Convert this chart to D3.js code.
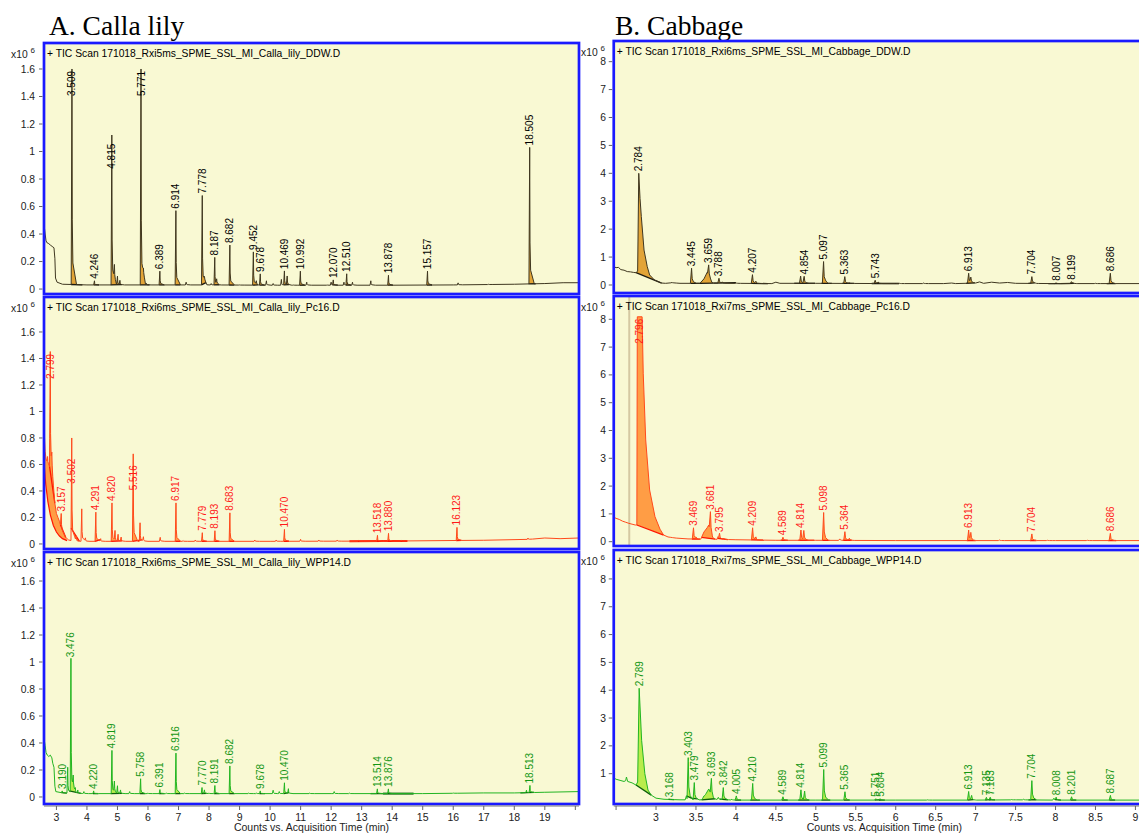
<!DOCTYPE html>
<html>
<head>
<meta charset="utf-8">
<script src="https://cdn.jsdelivr.net/npm/d3@7"></script>
<style>
  body { margin: 0; background: #ffffff; }
  svg { display: block; }
</style>
</head>
<body>
<svg id="chart" width="1139" height="834"></svg>
<script>
// ---------------- Data (abundance in x10^6 counts, time in min) ----------------

// Calla lily, DDW
const callaDdwHeader = "+ TIC Scan 171018_Rxi5ms_SPME_SSL_MI_Calla_lily_DDW.D";
const callaDdwTrace = [[2.59,0.45],[2.61,0.44],[2.63,0.40],[2.66,0.35],[2.70,0.335],[2.75,0.33],[2.80,0.32],[2.86,0.31],[2.92,0.30],[2.95,0.22],[2.97,0.08],[3.02,0.05],[3.2,0.035],[4.0,0.03],[6.0,0.03],[8.0,0.03],[10.0,0.028],[12.0,0.028],[14.0,0.028],[16.0,0.03],[18.0,0.035],[19.0,0.04],[19.6,0.046],[20.12,0.046]];
const callaDdwPeaks = [["3.509",1.6],["4.246",0.06],["4.815",0.86,1.12],["5.771",1.6],["6.389",0.13],["6.914",0.57],["7.778",0.68],["8.187",0.23],["8.682",0.32],["9.452",0.27],["9.678",0.11],["10.469",0.13],["10.992",0.13],["12.070",0.065],["12.510",0.11],["13.878",0.1],["15.157",0.13],["18.505",1.03]];
const callaDdwMinor = [[3.86,0.03],[4.9,0.12],[5.0,0.09],[5.08,0.06],[5.34,0.03],[5.85,0.06],[5.95,0.04],[6.6,0.025],[7.25,0.05],[7.85,0.05],[8.07,0.04],[8.25,0.06],[9.0,0.03],[9.55,0.05],[9.88,0.06],[10.1,0.04],[10.37,0.07],[10.56,0.09],[10.76,0.03],[11.2,0.05],[11.87,0.03],[12.0,0.05],[12.42,0.05],[12.7,0.05],[13.3,0.06],[14.57,0.025],[16.16,0.045],[17.15,0.035],[18.08,0.025],[18.9,0.035],[19.3,0.025]];
const callaDdwWindows = [["3.509",3.48,3.85],["4.815",4.78,5.15],["5.771",5.74,6.05],["7.778",7.75,7.9],["18.505",18.47,18.7]];

// Calla lily, Pc16
const callaPc16Header = "+ TIC Scan 171018_Rxi6ms_SPME_SSL_MI_Calla_lily_Pc16.D";
const callaPc16Trace = [[2.59,0.87],[2.61,0.80],[2.63,0.70],[2.66,0.64],[2.70,0.62],[2.74,0.60],[2.78,0.58],[2.83,0.56],[2.86,0.50],[2.90,0.40],[2.95,0.30],[3.00,0.23],[3.05,0.20],[3.10,0.17],[3.20,0.09],[3.30,0.05],[3.40,0.03],[3.60,0.02],[6,0.02],[10,0.02],[14,0.022],[17,0.028],[18.5,0.035],[19.0,0.045],[19.5,0.04],[20.12,0.045]];
const callaPc16Hump = [[2.59,0.62],[2.65,0.45],[2.72,0.32],[2.80,0.22],[2.90,0.14],[3.00,0.09],[3.10,0.06],[3.20,0.04],[3.35,0.025]];
const callaPc16Peaks = [["2.799",1.45],["3.157",0.23],["3.502",0.44,0.80],["4.291",0.24],["4.820",0.31],["5.516",0.39,0.68],["6.917",0.31],["7.779",0.085],["8.193",0.1],["8.683",0.235],["10.470",0.11],["13.518",0.065],["13.880",0.08],["16.123",0.125]];
const callaPc16Minor = [[2.71,0.66],[2.85,0.62],[3.65,0.06],[3.83,0.265],[3.95,0.04],[4.45,0.04],[4.92,0.09],[5.02,0.07],[5.12,0.05],[5.74,0.16],[5.85,0.05],[6.4,0.05],[7.15,0.025],[7.55,0.03],[9.5,0.03],[10.2,0.03],[11.0,0.035],[11.6,0.03],[12.2,0.03],[12.9,0.03],[14.3,0.03],[18.45,0.045]];
const callaPc16Windows = [["3.502",3.48,3.75],["4.820",4.79,5.15],["5.516",5.49,5.8],["13.518",12.6,13.7],["13.880",13.7,14.5]];

// Calla lily, WPP14
const callaWppHeader = "+ TIC Scan 171018_Rxi6ms_SPME_SSL_MI_Calla_lily_WPP14.D";
const callaWppTrace = [[2.59,0.42],[2.61,0.41],[2.63,0.38],[2.66,0.33],[2.70,0.31],[2.75,0.30],[2.80,0.31],[2.85,0.29],[2.88,0.25],[2.92,0.22],[2.95,0.08],[2.98,0.04],[3.2,0.03],[4,0.025],[8,0.025],[12,0.025],[15,0.025],[17,0.03],[18,0.03],[19,0.035],[20.12,0.04]];
const callaWppPeaks = [["3.190",0.045],["3.476",1.02],["4.220",0.045],["4.819",0.345],["5.758",0.135],["6.391",0.055],["6.916",0.325],["7.770",0.07],["8.191",0.085],["8.682",0.23],["9.678",0.045],["10.470",0.105],["13.514",0.06],["13.876",0.06],["18.513",0.085]];
const callaWppMinor = [[3.37,0.22],[3.55,0.1],[3.62,0.06],[3.7,0.05],[3.9,0.04],[4.9,0.1],[5.0,0.08],[5.1,0.05],[5.4,0.04],[6.0,0.03],[6.6,0.03],[7.2,0.03],[7.85,0.05],[8.0,0.03],[9.3,0.03],[9.55,0.03],[10.1,0.05],[10.3,0.04],[10.6,0.06],[11.3,0.03],[12.1,0.04],[12.6,0.03],[16.0,0.03],[18.4,0.05]];
const callaWppWindows = [["3.476",3.42,3.8],["4.819",4.78,5.15],["13.514",13.29,13.7],["13.876",13.7,14.7],["18.513",18.2,18.65]];

// Cabbage, DDW
const cabDdwHeader = "+ TIC Scan 171018_Rxi6ms_SPME_SSL_MI_Cabbage_DDW.D";
const cabDdwTrace = [[2.471,0.66],[2.5,0.62],[2.53,0.63],[2.56,0.55],[2.6,0.53],[2.64,0.48],[2.68,0.47],[2.72,0.45],[2.75,0.44],[2.77,0.5],[2.784,4.0],[2.80,3.1],[2.816,2.45],[2.85,1.25],[2.89,0.66],[2.92,0.36],[2.98,0.18],[3.07,0.07],[3.12,0.06],[3.2,0.08],[3.3,0.06],[3.55,0.06],[3.6,0.22],[3.64,0.45],[3.70,0.07],[4.0,0.06],[4.45,0.05],[4.5,0.1],[4.55,0.06],[5.0,0.06],[6.0,0.05],[6.6,0.05],[6.7,0.07],[6.75,0.05],[7.0,0.07],[7.05,0.11],[7.1,0.06],[7.2,0.1],[7.3,0.07],[7.4,0.09],[7.5,0.06],[8.0,0.05],[9.245,0.05]];
const cabDdwPeaks = [["2.784",4.0],["3.445",0.6],["3.659",0.72],["3.788",0.24],["4.207",0.37],["4.854",0.3],["5.097",0.84],["5.363",0.3],["5.743",0.17],["6.913",0.42],["7.704",0.3],["8.007",0.08],["8.199",0.12],["8.686",0.42]];
const cabDdwMinor = [[3.2,0.09],[3.83,0.1],[4.0,0.08],[4.25,0.12],[4.81,0.32],[5.12,0.1],[5.42,0.08],[5.78,0.1],[6.05,0.06],[6.35,0.07],[6.94,0.25],[7.73,0.08],[8.22,0.07],[8.5,0.06]];
const cabDdwWindows = [["2.784",2.75,3.07],["3.445",3.43,3.55],["3.659",3.55,3.72],["3.788",3.72,4.0],["4.207",4.19,4.4],["4.854",4.73,4.99],["5.097",5.07,5.2],["5.363",5.33,5.48],["5.743",5.7,6.04],["6.913",6.88,6.99],["7.704",7.66,7.74],["8.007",7.91,8.06],["8.199",8.06,8.23],["8.686",8.64,8.75]];

// Cabbage, Pc16
const cabPc16Header = "+ TIC Scan 171018_Rxi7ms_SPME_SSL_MI_Cabbage_Pc16.D";
const cabPc16Trace = [[2.471,0.88],[2.5,0.84],[2.54,0.8],[2.58,0.74],[2.62,0.7],[2.66,0.66],[2.7,0.63],[2.74,0.6],[2.76,0.6],[2.766,8.09],[2.826,8.09],[2.84,6.06],[2.871,3.66],[2.92,1.86],[2.987,0.9],[3.05,0.45],[3.095,0.24],[3.15,0.17],[3.25,0.13],[3.4,0.1],[3.56,0.09],[3.6,0.35],[3.64,0.5],[3.66,0.6],[3.71,0.09],[4.0,0.07],[4.5,0.05],[5.0,0.05],[6.0,0.04],[7.0,0.04],[8.0,0.04],[9.245,0.04]];
const cabPc16Peaks = [["2.796",8.09],["3.469",0.5],["3.681",1.08],["3.795",0.28],["4.209",0.5],["4.589",0.16],["4.814",0.42],["5.098",1.05],["5.364",0.36],["6.913",0.42],["7.704",0.28],["8.686",0.3]];
const cabPc16Minor = [[3.2,0.15],[3.5,0.14],[3.78,0.2],[3.85,0.12],[4.25,0.15],[4.85,0.38],[5.3,0.1],[5.42,0.12],[6.94,0.3],[7.3,0.06],[7.9,0.05],[8.4,0.05]];
const cabPc16Windows = [["2.796",2.76,3.095],["3.469",3.45,3.55],["3.681",3.57,3.74],["3.795",3.77,3.9],["4.209",4.19,4.35],["4.589",4.56,4.65],["4.814",4.78,4.98],["5.098",5.08,5.17],["5.364",5.34,5.45],["6.913",6.89,7.0],["7.704",7.68,7.76],["8.686",8.66,8.76]];
const cabPc16Markers = [2.665];

// Cabbage, WPP14
const cabWppHeader = "+ TIC Scan 171018_Rxi7ms_SPME_SSL_MI_Cabbage_WPP14.D";
const cabWppTrace = [[2.471,0.85],[2.5,0.8],[2.55,0.76],[2.6,0.72],[2.62,0.75],[2.63,0.88],[2.645,0.72],[2.7,0.67],[2.75,0.59],[2.77,0.7],[2.789,4.07],[2.82,2.2],[2.86,1.0],[2.9,0.41],[2.94,0.23],[3.0,0.12],[3.1,0.08],[3.3,0.06],[3.57,0.06],[3.62,0.25],[3.66,0.45],[3.72,0.08],[4.0,0.05],[5.0,0.05],[6.0,0.05],[7.0,0.05],[7.5,0.06],[8.0,0.05],[9.245,0.05]];
const cabWppPeaks = [["2.789",4.07],["3.168",0.08],["3.403",1.56],["3.479",0.68],["3.693",0.83],["3.842",0.5],["4.005",0.2],["4.210",0.65],["4.589",0.17],["4.814",0.42],["5.099",1.15],["5.365",0.35],["5.751",0.1],["5.804",0.1],["6.913",0.36],["7.135",0.15],["7.183",0.15],["7.704",0.75],["8.008",0.15],["8.201",0.17],["8.687",0.22]];
const cabWppMinor = [[3.38,0.2],[3.6,0.2],[3.78,0.15],[3.95,0.08],[4.86,0.36],[6.4,0.06],[6.95,0.2],[7.45,0.07],[7.6,0.08],[7.98,0.12]];
const cabWppWindows = [["2.789",2.75,2.94],["3.403",3.38,3.45],["3.479",3.45,3.52],["3.693",3.57,3.74],["3.842",3.8,3.9],["4.210",4.18,4.3],["4.814",4.78,4.92],["5.099",5.07,5.18],["7.704",7.66,7.76]];

// Axis ticks
const callaYTicks = [0, 0.2, 0.4, 0.6, 0.8, 1, 1.2, 1.4, 1.6];
const cabbageYTicks = [0, 1, 2, 3, 4, 5, 6, 7, 8];
const callaXTicks = [3,4,5,6,7,8,9,10,11,12,13,14,15,16,17,18,19,20];
const callaXLabels = ["3","4","5","6","7","8","9","10","11","12","13","14","15","16","17","18","19",""];
const cabbageXTicks = [2.5,3,3.5,4,4.5,5,5.5,6,6.5,7,7.5,8,8.5,9];
const cabbageXLabels = ["","3","3.5","4","4.5","5","5.5","6","6.5","7","7.5","8","8.5","9"];

const titleA = "A. Calla lily";
const titleB = "B. Cabbage";
const xAxisTitle = "Counts vs. Acquisition Time (min)";

// ---------------- Styles and layout ----------------
const ddwStyle  = { line: "#3f3720", fill: "#e2a437", base: "#1c1a10", label: "#000000" };
const pc16Style = { line: "#ff4a1c", fill: "#ff9d45", base: "#ff1500", label: "#ff1a1a" };
const wppStyle  = { line: "#22b522", fill: "#b9ec4c", base: "#0b5e0b", label: "#139613" };

// spike outline in minutes: [offset, fraction of peak excess]
const callaShape   = [[-0.025,0],[0,1],[0.01,0.3],[0.03,0.1],[0.15,0]];
const cabbageShape = [[-0.015,0],[0,1],[0.008,0.3],[0.024,0.1],[0.06,0]];

const colA = { x0: 44, x1: 579, dom: [2.593, 20.12], shape: callaShape, yTicks: callaYTicks, xTicks: callaXTicks, xLabels: callaXLabels, tickX: 35, expX: 11 };
const colB = { x0: 613.75, x1: 1155, dom: [2.471, 9.245], shape: cabbageShape, yTicks: cabbageYTicks, xTicks: cabbageXTicks, xLabels: cabbageXLabels, tickX: 606, expX: 581 };

const panels = [
  { col: colA, y0: 43,  y1: 294, yDom: [-0.036, 1.789], header: callaDdwHeader, trace: callaDdwTrace, peaks: callaDdwPeaks, minor: callaDdwMinor, windows: callaDdwWindows, style: ddwStyle },
  { col: colA, y0: 297, y1: 549, yDom: [-0.038, 1.864], header: callaPc16Header, trace: callaPc16Trace, peaks: callaPc16Peaks, minor: callaPc16Minor, windows: callaPc16Windows, hump: callaPc16Hump, style: pc16Style },
  { col: colA, y0: 552, y1: 804, yDom: [-0.052, 1.815], header: callaWppHeader, trace: callaWppTrace, peaks: callaWppPeaks, minor: callaWppMinor, windows: callaWppWindows, style: wppStyle, axis: true },
  { col: colB, y0: 41,  y1: 293, yDom: [-0.287, 8.74], header: cabDdwHeader, trace: cabDdwTrace, peaks: cabDdwPeaks, minor: cabDdwMinor, windows: cabDdwWindows, style: ddwStyle },
  { col: colB, y0: 296, y1: 546, yDom: [-0.155, 8.838], header: cabPc16Header, trace: cabPc16Trace, peaks: cabPc16Peaks, minor: cabPc16Minor, windows: cabPc16Windows, markers: cabPc16Markers, style: pc16Style },
  { col: colB, y0: 550, y1: 804, yDom: [-0.09, 9.04], header: cabWppHeader, trace: cabWppTrace, peaks: cabWppPeaks, minor: cabWppMinor, windows: cabWppWindows, style: wppStyle, axis: true }
];

const SANS = "'Liberation Sans', Arial, Helvetica, sans-serif";
const SERIF = "'Liberation Serif', 'Times New Roman', Times, serif";

const svg = d3.select("#chart");

// ---------------- Helpers ----------------
function lerp(pts, t) {
  const i = d3.bisector(d => d[0]).right(pts, t);
  if (i <= 0) return pts[0][1];
  if (i >= pts.length) return pts[pts.length - 1][1];
  const a = pts[i - 1], b = pts[i];
  return a[1] + (b[1] - a[1]) * (t - a[0]) / (b[0] - a[0]);
}
function lerpInside(pts, t) {
  if (t <= pts[0][0] || t >= pts[pts.length - 1][0]) return 0;
  return lerp(pts, t);
}

// Chromatogram = read trace + narrow spikes standing on it
function buildSeries(p) {
  const [t0, t1] = p.col.dom;
  const base = t => lerp(p.trace, t);
  const tops = p.peaks.map(d => [+d[0], d[2] != null ? Math.max(d[1], d[2]) : d[1]])
    .concat(p.minor.map(d => [d[0], d[1]]));
  const glyphs = [];
  tops.forEach(([rt, top]) => {
    const e = top - base(rt);
    if (e > 0) glyphs.push(p.col.shape.map(([dt, k]) => [rt + dt, k * e]));
  });
  const value = t => base(t) + d3.sum(glyphs, g => lerpInside(g, t));
  let times = p.trace.map(d => d[0]).concat(glyphs.flatMap(g => g.map(d => d[0])));
  times = Array.from(new Set(times.concat([t0, t1]).filter(t => t >= t0 && t <= t1))).sort(d3.ascending);
  return { value, points: times.map(t => [t, value(t)]) };
}

// ---------------- Titles ----------------
svg.append("text").attr("x", 49).attr("y", 35).attr("font-family", SERIF).attr("font-size", 27.5).attr("fill", "#000").text(titleA);
svg.append("text").attr("x", 615).attr("y", 35).attr("font-family", SERIF).attr("font-size", 27.5).attr("fill", "#000").text(titleB);

// ---------------- Panels ----------------
panels.forEach((p, idx) => {
  const c = p.col;
  const x = d3.scaleLinear().domain(c.dom).range([c.x0, c.x1]);
  const y = d3.scaleLinear().domain(p.yDom).range([p.y1, p.y0]);
  const g = svg.append("g");

  const clipId = "clip" + idx;
  svg.append("clipPath").attr("id", clipId).append("rect")
    .attr("x", c.x0 + 1).attr("y", p.y0 + 1).attr("width", c.x1 - c.x0 - 2).attr("height", p.y1 - p.y0 - 2);

  g.append("rect").attr("x", c.x0).attr("y", p.y0).attr("width", c.x1 - c.x0).attr("height", p.y1 - p.y0)
    .attr("fill", "#f9f9d3");

  const plot = g.append("g").attr("clip-path", `url(#${clipId})`);
  const series = buildSeries(p);
  const line = d3.line().x(d => x(d[0])).y(d => y(d[1]));

  // vertical cursor lines
  (p.markers || []).forEach(t => {
    plot.append("line").attr("x1", x(t)).attr("x2", x(t)).attr("y1", p.y0).attr("y2", p.y1)
      .attr("stroke", "#d5c9a2").attr("stroke-width", 2);
  });

  // early hump area bounded below by its integration curve
  if (p.hump) {
    const h0 = p.hump[0][0], h1 = p.hump[p.hump.length - 1][0];
    const upper = series.points.filter(d => d[0] >= h0 && d[0] <= h1);
    const poly = upper.concat(p.hump.slice().reverse());
    plot.append("path").attr("d", line(poly) + "Z").attr("fill", p.style.fill).attr("stroke", "none");
    plot.append("path").attr("d", line(p.hump)).attr("fill", "none").attr("stroke", p.style.base).attr("stroke-width", 1.2);
  }

  // integrated peak areas
  const winMap = new Map(p.windows.map(d => [d[0], [d[1], d[2]]]));
  const sh = c.shape;
  p.peaks.forEach(d => {
    const rt = +d[0];
    const [s, e] = winMap.get(d[0]) || [rt + sh[0][0], rt + sh[sh.length - 1][0]];
    const pts = [[s, series.value(s)]]
      .concat(series.points.filter(q => q[0] > s && q[0] < e))
      .concat([[e, series.value(e)]]);
    plot.append("path").attr("d", line(pts) + "Z").attr("fill", p.style.fill).attr("stroke", "none");
    plot.append("line")
      .attr("x1", x(s)).attr("y1", y(series.value(s))).attr("x2", x(e)).attr("y2", y(series.value(e)))
      .attr("stroke", p.style.base).attr("stroke-width", e - s > 0.5 ? 2 : 1.3);
  });

  // full trace
  plot.append("path").attr("d", line(series.points)).attr("fill", "none")
    .attr("stroke", p.style.line).attr("stroke-width", 1).attr("stroke-linejoin", "bevel");

  // retention time labels
  const topTickY = y(c.yTicks[c.yTicks.length - 1]);
  plot.selectAll("text.rt").data(p.peaks).join("text").attr("class", "rt")
    .attr("font-family", SANS).attr("font-size", 10).attr("fill", p.style.label)
    .attr("dy", "0.35em").text(d => d[0])
    .each(function (d) {
      const len = this.getComputedTextLength();
      const ya = y(d[1]);
      let yb = ya - 2;
      if (yb - len < topTickY - 3) yb = ya + 2 + len;
      d3.select(this).attr("transform", `translate(${x(+d[0])},${yb}) rotate(-90)`);
    });

  // frame
  g.append("rect").attr("x", c.x0).attr("y", p.y0).attr("width", c.x1 - c.x0).attr("height", p.y1 - p.y0)
    .attr("fill", "none").attr("stroke", "#1a1aff").attr("stroke-width", 2.7);

  // header
  g.append("text").attr("x", c.x0 + 3).attr("y", p.y0 + 13.5).attr("font-family", SANS)
    .attr("font-size", 10.3).attr("fill", "#000").text(p.header);

  // y axis
  const yTicks = c.yTicks.filter(v => y(v) < p.y1 - 3.5 && y(v) > p.y0);
  g.selectAll("line.yt").data(yTicks).join("line").attr("class", "yt")
    .attr("x1", c.x0 - 5).attr("x2", c.x0 - 1.5).attr("y1", d => y(d)).attr("y2", d => y(d))
    .attr("stroke", "#666").attr("stroke-width", 1);
  g.selectAll("text.yl").data(yTicks).join("text").attr("class", "yl")
    .attr("x", c.tickX).attr("y", d => y(d)).attr("dy", "0.35em").attr("text-anchor", "end")
    .attr("font-family", SANS).attr("font-size", 10.3).attr("fill", "#222")
    .text(d => String(d));
  const ex = g.append("text").attr("x", c.expX).attr("y", p.y0 + 15).attr("font-family", SANS)
    .attr("font-size", 10.3).attr("fill", "#222");
  ex.append("tspan").text("x10");
  ex.append("tspan").attr("dx", 3).attr("dy", -5).attr("font-size", 8).text("6");

  // time axis on the bottom row
  if (p.axis) {
    const ay = p.y1 + 2;
    g.append("line").attr("x1", c.x0).attr("x2", c.x1).attr("y1", ay).attr("y2", ay).attr("stroke", "#777");
    g.selectAll("line.xt").data(c.xTicks).join("line").attr("class", "xt")
      .attr("x1", d => x(d)).attr("x2", d => x(d)).attr("y1", ay).attr("y2", ay + 4)
      .attr("stroke", "#666");
    g.selectAll("text.xl").data(c.xTicks).join("text").attr("class", "xl")
      .attr("x", d => x(d)).attr("y", ay + 15).attr("text-anchor", "middle")
      .attr("font-family", SANS).attr("font-size", 10.5).attr("fill", "#222")
      .text((d, i) => c.xLabels[i]);
    g.append("text").attr("x", (c.x0 + c.x1) / 2).attr("y", 831).attr("text-anchor", "middle")
      .attr("font-family", SANS).attr("font-size", 10.5).attr("fill", "#222").text(xAxisTitle);
  }
});
</script>
</body>
</html>
